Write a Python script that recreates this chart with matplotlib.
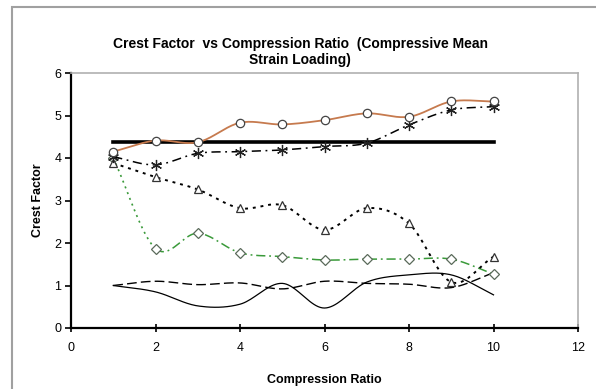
import numpy as np
import matplotlib
matplotlib.use('Agg')
import matplotlib.pyplot as plt
from matplotlib.patches import Rectangle

plt.rcParams['font.family'] = ['Liberation Sans', 'DejaVu Sans']

ratio = [1, 2, 3, 4, 5, 6, 7, 8, 9, 10]

cf_circle   = [4.15, 4.41, 4.37, 4.83, 4.79, 4.89, 5.05, 4.97, 5.33, 5.33]
cf_star     = [4.03, 3.84, 4.11, 4.15, 4.19, 4.27, 4.35, 4.78, 5.13, 5.21]
cf_triangle = [3.88, 3.55, 3.26, 2.82, 2.89, 2.31, 2.82, 2.46, 1.08, 1.68]
cf_diamond  = [4.00, 1.87, 2.23, 1.77, 1.68, 1.60, 1.62, 1.62, 1.62, 1.27]
cf_dashed   = [1.00, 1.10, 1.02, 1.06, 0.92, 1.10, 1.05, 1.03, 0.95, 1.30]
cf_solid    = [1.00, 0.85, 0.52, 0.56, 1.05, 0.47, 1.08, 1.25, 1.25, 0.78]
cf_limit    = [4.37, 4.37]
limit_x     = [1, 10]

NSEG = 20


def smooth(x, y, n=NSEG):
    # catmull-rom curve through the points, like a "smoothed line" chart
    x = np.asarray(x, float)
    y = np.asarray(y, float)
    px = np.concatenate([[2*x[0]-x[1]], x, [2*x[-1]-x[-2]]])
    py = np.concatenate([[2*y[0]-y[1]], y, [2*y[-1]-y[-2]]])
    t = np.linspace(0, 1, n, endpoint=False)
    xs, ys = [], []
    for i in range(1, len(px)-2):
        for p, out in ((px, xs), (py, ys)):
            p0, p1, p2, p3 = p[i-1], p[i], p[i+1], p[i+2]
            out.extend(0.5*((2*p1) + (-p0+p2)*t + (2*p0-5*p1+4*p2-p3)*t**2
                            + (-p0+3*p1-3*p2+p3)*t**3))
    xs.append(x[-1])
    ys.append(y[-1])
    return np.array(xs), np.array(ys)


fig = plt.figure(figsize=(5.96, 3.89), dpi=100)
ax = fig.add_axes([71/596, 1-328/389, (578-71)/596, (328-73)/389])

# outer chart border
fig.patches.append(Rectangle((12/596, -0.05), 1.0, 1-7/389+0.05, transform=fig.transFigure,
                             fill=False, edgecolor='#a0a0a0', linewidth=1.5))

ax.plot(limit_x, cf_limit, color='black', linewidth=2.6)

sx, sy = smooth(ratio, cf_solid)
ax.plot(sx, sy, color='black', linewidth=0.9)
sx, sy = smooth(ratio, cf_dashed)
ax.plot(sx, sy, color='black', linewidth=1.0, dashes=(7, 3))

# green series: first leg dotted, the rest dash-dot
sx, sy = smooth(ratio, cf_diamond)
ax.plot(sx[:NSEG+1], sy[:NSEG+1], color='#3a9a3a', linewidth=1.2, dashes=(1.2, 2.5))
ax.plot(sx[NSEG:], sy[NSEG:], color='#3a9a3a', linewidth=1.1, dashes=(6, 2.5, 1.2, 2.5))
ax.plot(ratio, cf_diamond, linestyle='none', marker='D', markersize=5,
        markerfacecolor='white', markeredgecolor='#5a6a5a', markeredgewidth=0.9)

sx, sy = smooth(ratio, cf_triangle)
ax.plot(sx, sy, color='black', linewidth=1.4, dashes=(1.5, 2.5))
ax.plot(ratio, cf_triangle, linestyle='none', marker='^', markersize=6,
        markerfacecolor='white', markeredgecolor='#333333', markeredgewidth=0.9)

sx, sy = smooth(ratio, cf_star)
ax.plot(sx, sy, color='black', linewidth=1.1, dashes=(6, 3, 1.2, 3))
ax.plot(ratio, cf_star, linestyle='none', marker=(6, 2, 0), markersize=8,
        color='#222222', markeredgewidth=0.9)

sx, sy = smooth(ratio, cf_circle)
ax.plot(sx, sy, color='#c67a4e', linewidth=1.3)
ax.plot(ratio, cf_circle, linestyle='none', marker='o', markersize=6,
        markerfacecolor='white', markeredgecolor='#444444', markeredgewidth=0.9)

ax.set_xlim(0, 12)
ax.set_ylim(0, 6)
ax.set_xticks(range(0, 13, 2))
ax.set_yticks(range(0, 7))
ax.tick_params(axis='x', direction='inout', length=6, width=1.2, pad=7, labelsize=9)
ax.tick_params(axis='y', direction='out', length=4, width=1.2, pad=3, labelsize=9)
for side in ('left', 'bottom'):
    ax.spines[side].set_linewidth(1.6)
for side in ('top', 'right'):
    ax.spines[side].set_color('#b0b0b0')
    ax.spines[side].set_linewidth(1.2)

fig.text(300/596, 1-52/389,
         'Crest Factor  vs Compression Ratio  (Compressive Mean\nStrain Loading)',
         ha='center', va='center', fontsize=10, fontweight='bold', linespacing=1.2)
fig.text(38/596, 1-200/389, 'Crest Factor', rotation=90, ha='center', va='center',
         fontsize=9, fontweight='bold')
fig.text(324/596, 1-380/389, 'Compression Ratio', ha='center', va='center',
         fontsize=9, fontweight='bold')

fig.savefig('out.png', dpi=100)
